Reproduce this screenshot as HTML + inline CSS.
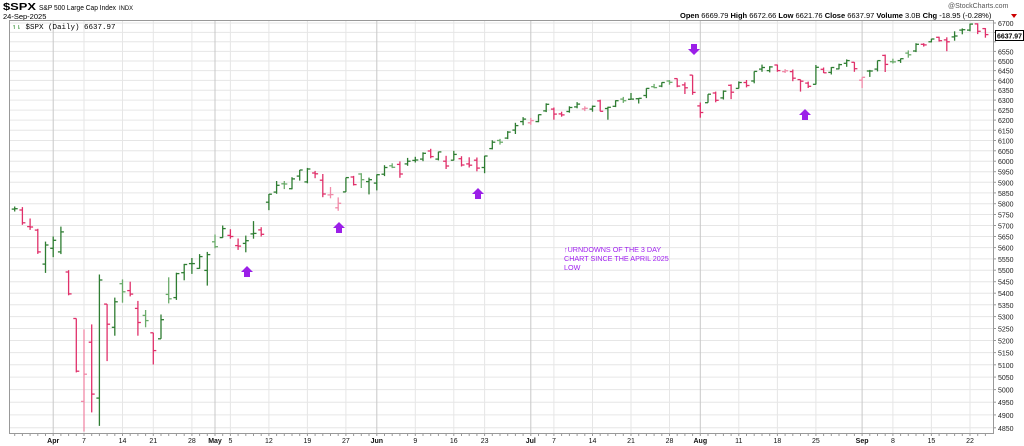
<!DOCTYPE html>
<html><head><meta charset="utf-8"><style>
body{margin:0;background:#fff;width:1024px;height:446px;overflow:hidden;font-family:"Liberation Sans",sans-serif}
svg{display:block}
</style></head><body>
<svg id="s" width="1024" height="446" xmlns="http://www.w3.org/2000/svg" font-family="Liberation Sans, sans-serif">
<text x="3" y="10" font-size="10" font-weight="bold" fill="#000" textLength="33" lengthAdjust="spacingAndGlyphs">$SPX</text>
<text x="39" y="10" font-size="7.5" fill="#000" textLength="77" lengthAdjust="spacingAndGlyphs">S&amp;P 500 Large Cap Index</text>
<text x="119" y="10" font-size="6" fill="#000" textLength="14" lengthAdjust="spacingAndGlyphs">INDX</text>
<text x="3" y="19" font-size="7.5" fill="#000">24-Sep-2025</text>
<text x="948" y="8" font-size="7" fill="#555">@StockCharts.com</text>
<text x="680" y="18" font-size="7.5" fill="#000"><tspan font-weight="bold">Open</tspan> 6669.79  <tspan font-weight="bold">High</tspan> 6672.66  <tspan font-weight="bold">Low</tspan> 6621.76  <tspan font-weight="bold">Close</tspan> 6637.97  <tspan font-weight="bold">Volume</tspan> 3.0B  <tspan font-weight="bold">Chg</tspan> -18.95 (-0.28%)</text>
<polygon points="1011,14 1017,14 1014,18" fill="#c00"/>
<g id="grid"></g>
<g id="bars"></g>
<rect x="9.5" y="20.5" width="984" height="413" fill="none" stroke="#999" stroke-width="1"/>
<text x="12" y="29" font-size="7.5" fill="#000" font-family="Liberation Mono, monospace"><tspan fill="#2a8a2a">↿⇂</tspan> $SPX (Daily) 6637.97</text>
<g fill="#a020f0" font-size="7.2">
<text x="564" y="252">↑URNDOWNS OF THE 3 DAY</text>
<text x="564" y="261">CHART SINCE THE APRIL 2025</text>
<text x="564" y="270">LOW</text>
</g>
<g id="arrows" fill="#9b1fe8"></g>
<rect x="995.5" y="30.5" width="28" height="10" fill="#fff" stroke="#000" stroke-width="1"/>
<text x="997" y="38.5" font-size="7.5" font-weight="bold" fill="#000" textLength="25" lengthAdjust="spacingAndGlyphs">6637.97</text>
</svg>
<script>
var D=`5775 5787 5764 5777
5771 5784 5703 5712
5695 5732 5680 5693
5679 5685 5572 5581
5527 5627 5488 5612
5597 5650 5558 5633
5581 5695 5571 5671
5492 5500 5391 5397
5292 5292 5069 5074
4953 5246 4835 5062
5193 5267 4910 4982
4966 5481 4857 5457
5353 5353 5115 5268
5255 5381 5220 5363
5441 5460 5359 5406
5411 5450 5386 5396
5335 5367 5220 5275
5305 5328 5255 5283
5232 5232 5101 5158
5207 5309 5207 5287
5395 5469 5356 5376
5381 5489 5371 5485
5489 5528 5456 5525
5529 5554 5484 5529
5508 5571 5506 5560
5499 5581 5433 5569
5626 5659 5597 5604
5645 5700 5644 5686
5655 5683 5640 5650
5609 5641 5590 5607
5619 5654 5579 5631
5662 5720 5640 5664
5680 5692 5650 5660
5807 5845 5770 5844
5854 5906 5846 5886
5893 5906 5868 5892
5870 5924 5867 5916
5929 5958 5908 5958
5902 5968 5895 5963
5944 5954 5919 5940
5910 5939 5830 5845
5841 5878 5825 5842
5781 5829 5767 5802
5855 5922 5855 5922
5925 5930 5885 5889
5939 5943 5873 5912
5903 5922 5843 5912
5896 5937 5862 5936
5938 5981 5929 5970
5978 5990 5967 5971
5985 5999 5921 5939
5987 6016 5978 6000
6004 6021 5994 6006
6010 6043 6000 6038
6049 6060 6014 6022
6010 6046 6004 6045
6000 6026 5963 5977
6005 6050 6004 6033
6012 6024 5975 5982
5987 6019 5970 5981
6005 6018 5952 5967
5970 6026 5943 6025
6061 6101 6057 6092
6100 6108 6080 6092
6112 6146 6107 6141
6151 6187 6132 6173
6193 6215 6175 6205
6187 6211 6177 6198
6193 6228 6190 6227
6246 6284 6240 6279
6255 6263 6202 6230
6231 6242 6217 6226
6243 6269 6237 6263
6266 6290 6259 6280
6256 6269 6245 6259
6255 6273 6242 6269
6296 6302 6244 6244
6258 6267 6202 6264
6269 6299 6265 6297
6305 6316 6286 6297
6304 6336 6303 6305
6307 6310 6283 6309
6323 6360 6310 6359
6368 6382 6360 6363
6371 6390 6365 6389
6397 6402 6378 6390
6409 6410 6365 6371
6377 6390 6331 6362
6427 6427 6327 6339
6271 6288 6212 6238
6287 6330 6287 6330
6336 6343 6289 6299
6311 6349 6303 6345
6375 6380 6305 6340
6359 6395 6359 6389
6389 6402 6364 6374
6397 6446 6385 6446
6458 6481 6444 6466
6450 6473 6441 6469
6479 6481 6444 6450
6445 6458 6438 6449
6445 6456 6396 6411
6404 6404 6343 6396
6386 6394 6361 6370
6380 6479 6379 6467
6457 6466 6438 6439
6441 6468 6430 6466
6459 6486 6457 6481
6488 6508 6470 6502
6493 6494 6444 6460
6401 6416 6361 6416
6448 6454 6418 6448
6458 6502 6446 6502
6529 6533 6443 6482
6496 6512 6487 6495
6502 6513 6490 6512
6541 6555 6517 6532
6552 6593 6546 6587
6587 6593 6575 6584
6600 6616 6597 6615
6624 6627 6601 6606
6610 6624 6551 6600
6626 6656 6606 6631
6662 6671 6640 6664
6662 6697 6656 6694
6695 6698 6641 6656
6670 6673 6622 6638`.trim().split('\n').map(l=>l.trim().split(/\s+/).map(Number));
function Y(v){return 23+1252.6*(Math.log(6700)-Math.log(v));}
function X(i){return 84+7.704*(i-9);}
var g='',b='';
for(var v=4850;v<=6700;v+=50){var y=Y(v).toFixed(1);
g+=`<line x1="10" x2="993" y1="${y}" y2="${y}" stroke="#e6e6e6"/>`;
g+=`<line x1="993" x2="996" y1="${y}" y2="${y}" stroke="#999"/>`;
if(v!=6600)g+=`<text x="998" y="${(+y+3).toFixed(1)}" font-size="7" fill="#222">${v}</text>`;}
var labs=[[5,'Apr',1],[9,'7'],[14,'14'],[18,'21'],[23,'28'],[26,'May',1],[28,'5'],[33,'12'],[38,'19'],[43,'27'],[47,'Jun',1],[52,'9'],[57,'16'],[61,'23'],[67,'Jul',1],[70,'7'],[75,'14'],[80,'21'],[85,'28'],[89,'Aug',1],[94,'11'],[99,'18'],[104,'25'],[110,'Sep',1],[114,'8'],[119,'15'],[124,'22']];
labs.forEach(function(l){var x=X(l[0]).toFixed(1);
g+=`<line x1="${x}" x2="${x}" y1="21" y2="433" stroke="${l[2]?'#c8c8c8':'#e6e6e6'}"/>`;
g+=`<text x="${x}" y="443" font-size="7" text-anchor="middle" fill="#111" ${l[2]?'font-weight="bold"':''}>${l[1]}</text>`;});
for(var i=0;i<D.length;i++){var x=X(i);g+=`<line x1="${x.toFixed(1)}" x2="${x.toFixed(1)}" y1="433" y2="436" stroke="#999"/>`;}
document.getElementById('grid').innerHTML=g;
for(var i=0;i<D.length;i++){var d=D[i],x=X(i),up=i==0||d[3]>=D[i-1][3];
var c=up?(d[3]>=d[0]?'#2e7d32':'#6aab6a'):(d[3]<d[0]?'#e0306a':'#f08aa8');
b+=`<line x1="${x.toFixed(1)}" x2="${x.toFixed(1)}" y1="${Y(d[1]).toFixed(1)}" y2="${Y(d[2]).toFixed(1)}" stroke="${c}" stroke-width="1.3"/>`;
b+=`<line x1="${(x-3).toFixed(1)}" x2="${x.toFixed(1)}" y1="${Y(d[0]).toFixed(1)}" y2="${Y(d[0]).toFixed(1)}" stroke="${c}" stroke-width="1.3"/>`;
b+=`<line x1="${x.toFixed(1)}" x2="${(x+3).toFixed(1)}" y1="${Y(d[3]).toFixed(1)}" y2="${Y(d[3]).toFixed(1)}" stroke="${c}" stroke-width="1.3"/>`;}
document.getElementById('bars').innerHTML=b;
var a='';
[[247,266],[339,222],[478,188],[805,109]].forEach(function(p){var x=p[0],y=p[1];
a+=`<polygon points="${x},${y} ${x+6},${y+6} ${x+3},${y+6} ${x+3},${y+11} ${x-3},${y+11} ${x-3},${y+6} ${x-6},${y+6}"/>`;});
(function(){var x=694,y=55;a+=`<polygon points="${x},${y} ${x+6},${y-6} ${x+3},${y-6} ${x+3},${y-11} ${x-3},${y-11} ${x-3},${y-6} ${x-6},${y-6}"/>`;})();
document.getElementById('arrows').innerHTML=a;
</script>
</body></html>
